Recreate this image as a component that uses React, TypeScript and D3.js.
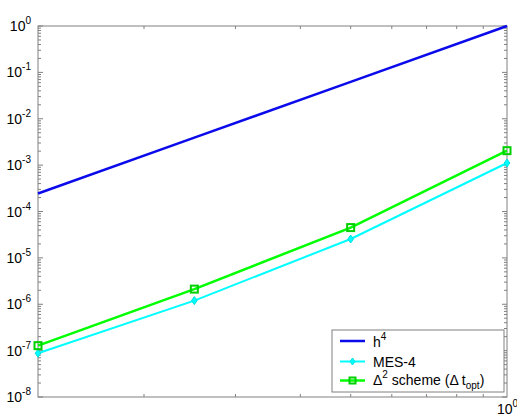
import React from "react";
import * as d3 from "d3";

// Mesh sizes and error values
const hValues = [0.125, 0.25, 0.5, 1];
const h4Values = [0.125 ** 4, 0.25 ** 4, 0.5 ** 4, 1];
const mesValues = [8.8e-8, 1.2e-6, 2.55e-5, 1.11e-3];
const deltaValues = [1.28e-7, 2.12e-6, 4.5e-5, 2.05e-3];
const yDecades = [0, -1, -2, -3, -4, -5, -6, -7, -8];
const xMinorTicks = [0.2, 0.3, 0.4, 0.5, 0.6, 0.7, 0.8, 0.9];

const W = 517;
const H = 417;
const left = 38;
const right = 507;
const top = 26;
const bottom = 397;
const axisColor = "#808080";
const font = "'Liberation Sans', Arial, sans-serif";

export default function App() {
  const x = d3.scaleLog().domain([0.125, 1]).range([left, right]);
  const y = d3.scaleLog().domain([1e-8, 1]).range([bottom, top]);

  const line = d3
    .line<[number, number]>()
    .x((d) => x(d[0]))
    .y((d) => y(d[1]));

  const pts = (vals: number[]) => hValues.map((h, i) => [h, vals[i]] as [number, number]);

  const yMinor: number[] = [];
  for (let e = -8; e < 0; e++) {
    for (let m = 2; m <= 9; m++) yMinor.push(m * Math.pow(10, e));
  }

  const diamond = (cx: number, cy: number, r: number) =>
    `M${cx},${cy - r}L${cx + r * 0.7},${cy}L${cx},${cy + r}L${cx - r * 0.7},${cy}Z`;

  const lx0 = 340;
  const lx1 = 365;
  const rows = [341, 361.5, 380.5];

  return (
    <svg
      width={W}
      height={H}
      style={{ position: "absolute", left: 0, top: 0, background: "#fff" }}
      fontFamily={font}
    >
      {/* frame */}
      <rect x={left} y={top} width={right - left} height={bottom - top} fill="none" stroke={axisColor} strokeWidth={1} />

      {/* y ticks */}
      {yDecades.map((e) => {
        const yy = y(Math.pow(10, e));
        return (
          <g key={"yd" + e}>
            <line x1={left} x2={left + 5} y1={yy} y2={yy} stroke={axisColor} />
            <line x1={right} x2={right - 5} y1={yy} y2={yy} stroke={axisColor} />
            <text x={31} y={yy + 5} textAnchor="end" fontSize={14} fill="#000">
              10
              <tspan fontSize={10} dy={-7}>
                {e}
              </tspan>
            </text>
          </g>
        );
      })}
      {yMinor.map((v, i) => {
        const yy = y(v);
        return (
          <g key={"ym" + i}>
            <line x1={left} x2={left + 3} y1={yy} y2={yy} stroke={axisColor} />
            <line x1={right} x2={right - 3} y1={yy} y2={yy} stroke={axisColor} />
          </g>
        );
      })}

      {/* x ticks */}
      {xMinorTicks.map((v) => {
        const xx = x(v);
        return (
          <g key={"xm" + v}>
            <line x1={xx} x2={xx} y1={bottom} y2={bottom - 3} stroke={axisColor} />
            <line x1={xx} x2={xx} y1={top} y2={top + 3} stroke={axisColor} />
          </g>
        );
      })}
      <text x={x(1) - 10} y={414} fontSize={14} fill="#000">
        10
        <tspan fontSize={10} dy={-7}>
          0
        </tspan>
      </text>

      {/* series */}
      <path d={line(pts(h4Values)) ?? ""} fill="none" stroke="#0a0aeb" strokeWidth={2.5} />
      <path d={line(pts(mesValues)) ?? ""} fill="none" stroke="#00ffff" strokeWidth={2} />
      {pts(mesValues).map((p, i) => (
        <path key={"mm" + i} d={diamond(x(p[0]), y(p[1]), 4)} fill="#00ffff" stroke="#00e0e0" strokeWidth={1} />
      ))}
      <path d={line(pts(deltaValues)) ?? ""} fill="none" stroke="#00ff00" strokeWidth={2.5} />
      {pts(deltaValues).map((p, i) => (
        <rect
          key={"dm" + i}
          x={x(p[0]) - 3.5}
          y={y(p[1]) - 3.5}
          width={7}
          height={7}
          fill="none"
          stroke="#00d000"
          strokeWidth={2}
        />
      ))}

      {/* legend */}
      <rect x={332} y={330} width={172} height={62} fill="#fff" stroke={axisColor} strokeWidth={1} />
      <line x1={lx0} x2={lx1} y1={rows[0]} y2={rows[0]} stroke="#0a0aeb" strokeWidth={2.5} />
      <text x={373} y={rows[0] + 6} fontSize={14} fill="#000">
        h
        <tspan fontSize={10} dy={-7}>
          4
        </tspan>
      </text>
      <line x1={lx0} x2={lx1} y1={rows[1]} y2={rows[1]} stroke="#00ffff" strokeWidth={2} />
      <path d={diamond((lx0 + lx1) / 2, rows[1], 3.5)} fill="#00ffff" stroke="#00e0e0" />
      <text x={373} y={rows[1] + 5} fontSize={14} fill="#000">
        MES-4
      </text>
      <line x1={lx0} x2={lx1} y1={rows[2]} y2={rows[2]} stroke="#00ff00" strokeWidth={2.5} />
      <rect x={(lx0 + lx1) / 2 - 3} y={rows[2] - 3} width={6} height={6} fill="none" stroke="#00d000" strokeWidth={2} />
      <text x={373} y={rows[2] + 4} fontSize={14} fill="#000">
        Δ
        <tspan fontSize={10} dy={-7}>
          2
        </tspan>
        <tspan dy={7}> scheme (Δ t</tspan>
        <tspan fontSize={10} dy={4}>
          opt
        </tspan>
        <tspan dy={-4}>)</tspan>
      </text>
    </svg>
  );
}
